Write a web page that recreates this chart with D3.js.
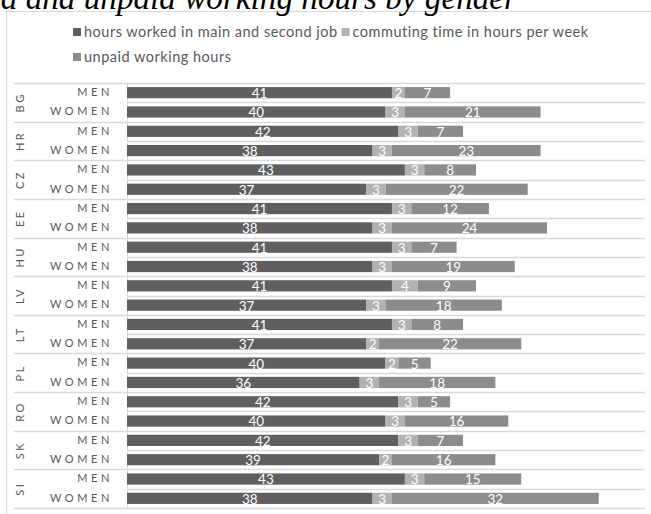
<!DOCTYPE html>
<html><head><meta charset="utf-8">
<script src="https://cdn.jsdelivr.net/npm/d3@7"></script>
<style>
html,body{margin:0;padding:0;background:#fff;overflow:hidden}
svg{display:block}
</style></head>
<body>
<svg id="chart" width="651" height="514"></svg>
<script>
const title = "Paid and unpaid working hours by gender";
const countries = ["BG","HR","CZ","EE","HU","LV","LT","PL","RO","SK","SI"];
const genders = ["MEN","WOMEN"];
const seriesNames = ["hours worked in main and second job","commuting time in hours per week","unpaid working hours"];
const paidMen =     [41,42,43,41,41,41,41,40,42,42,43];
const paidWomen =   [40,38,37,38,38,37,37,36,40,39,38];
const commuteMen =  [2,3,3,3,3,4,3,2,3,3,3];
const commuteWomen =[3,3,3,3,3,3,2,3,3,2,3];
const unpaidMen =   [7,7,8,12,7,9,8,5,5,7,15];
const unpaidWomen = [21,23,22,24,19,18,22,18,16,16,32];
const colors = ["#5f5f5f","#b2b2b2","#8c8c8c"];

const rows = [];
countries.forEach((c,i)=>{
  rows.push({country:c, gender:genders[0], key:c+"|MEN", vals:[paidMen[i],commuteMen[i],unpaidMen[i]]});
  rows.push({country:c, gender:genders[1], key:c+"|WOMEN", vals:[paidWomen[i],commuteWomen[i],unpaidWomen[i]]});
});

const svg = d3.select("#chart");
const font = "Lato, 'Open Sans', sans-serif";
const textCol = "#595959";
const gridCol = "#d9d9d9";

// frame
svg.append("rect").attr("x",6.5).attr("y",11.5).attr("width",700).attr("height",600)
  .attr("fill","none").attr("stroke",gridCol).attr("stroke-width",1.2);

// title (partly cut off at the top-left as in the reference)
svg.append("text").attr("x",517).attr("y",9).attr("text-anchor","end")
  .attr("font-family","'Liberation Serif', 'DejaVu Serif', serif").attr("font-style","italic")
  .attr("font-size",33.2).attr("fill","#000").text(title);

// legend
const lg = svg.append("g");
function legendItem(name, c, lx, ly){
  lg.append("rect").attr("x",lx).attr("y",ly-4).attr("width",8).attr("height",8).attr("fill",c);
  const t = lg.append("text").attr("x",lx+11).attr("y",ly).attr("dy","0.35em")
    .attr("font-family",font).attr("font-size",14.5).attr("letter-spacing","0.5px")
    .attr("fill",textCol).text(name);
  return lx+11+t.node().getComputedTextLength();
}
const end1 = legendItem(seriesNames[0], colors[0], 73, 32);
legendItem(seriesNames[1], colors[1], end1+4, 32);
legendItem(seriesNames[2], colors[2], 73, 57);

const x0 = 127, xRight = 644;
const x = d3.scaleLinear().domain([0,80]).range([x0,xRight]);
const y = d3.scaleBand().domain(rows.map(r=>r.key)).range([83,508]).paddingInner(0.42).paddingOuter(0.21);
const step = y.step();

// grid lines between rows
const gl = svg.append("g");
for(let i=0;i<=rows.length;i++){
  const yy = Math.round(83 + i*step)+0.5;
  gl.append("line").attr("x1",x0).attr("x2",645).attr("y1",yy).attr("y2",yy)
    .attr("stroke",gridCol).attr("stroke-width",1.3);
}
// country separators
for(let i=0;i<=countries.length;i++){
  const yy = Math.round(83 + i*2*step)+0.5;
  gl.append("line").attr("x1",14).attr("x2",x0).attr("y1",yy).attr("y2",yy)
    .attr("stroke",gridCol).attr("stroke-width",1.3);
}
// vertical axis line
gl.append("line").attr("x1",x0+0.5).attr("x2",x0+0.5).attr("y1",83).attr("y2",508)
  .attr("stroke",gridCol).attr("stroke-width",1);

// bars
const stack = rows.map(r=>{
  let acc=0;
  return r.vals.map((v,j)=>{const s={row:r, j, v, a:acc, b:acc+v}; acc+=v; return s;});
}).flat();

const bars = svg.append("g");
bars.selectAll("rect").data(stack).join("rect")
  .attr("x",d=>x(d.a)).attr("y",d=>y(d.row.key))
  .attr("width",d=>x(d.b)-x(d.a)).attr("height",y.bandwidth())
  .attr("fill",d=>colors[d.j]);
bars.selectAll("text").data(stack).join("text")
  .attr("x",d=>(x(d.a)+x(d.b))/2).attr("y",d=>y(d.row.key)+y.bandwidth()/2)
  .attr("dy","0.4em").attr("text-anchor","middle")
  .attr("font-family",font).attr("font-size",13.5).attr("fill","#fff")
  .text(d=>d.v);

// gender labels
svg.append("g").selectAll("text").data(rows).join("text")
  .attr("x",113).attr("y",d=>y(d.key)+y.bandwidth()/2).attr("dy","0.3em")
  .attr("text-anchor","end").attr("font-family",font).attr("font-size",11)
  .attr("letter-spacing","3.6px").attr("fill",textCol).text(d=>d.gender);

// country labels
svg.append("g").selectAll("text").data(countries).join("text")
  .attr("transform",(d,i)=>`translate(24,${83+(i*2+1)*step}) rotate(-90)`)
  .attr("text-anchor","middle").attr("font-family",font).attr("font-size",11)
  .attr("letter-spacing","2.5px").attr("fill",textCol).text(d=>d);
</script>
</body></html>
